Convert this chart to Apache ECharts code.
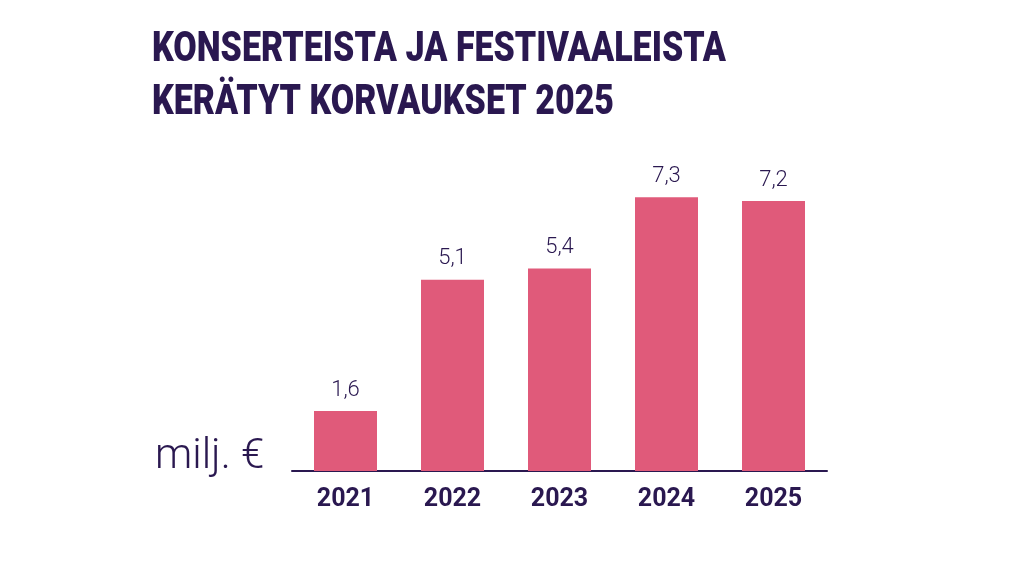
<!DOCTYPE html>
<html>
<head>
<meta charset="utf-8">
<style>
  html, body { margin: 0; padding: 0; background: #fff; }
  #chart { width: 1024px; height: 576px; }
</style>
<script src="https://cdn.jsdelivr.net/npm/echarts@6/dist/echarts.min.js"></script>
</head>
<body>
<div id="chart"></div>
<script>
const years = ['2021', '2022', '2023', '2024', '2025']
const amounts = [1.6, 5.1, 5.4, 7.3, 7.2]
const titleLines = ['KONSERTEISTA JA FESTIVAALEISTA', 'KERÄTYT KORVAUKSET 2025']
const unitLabel = 'milj. €'

const purple = '#2a1850'
const pink = '#e05a7a'

const chart = echarts.init(document.getElementById('chart'))

chart.setOption({
  animation: false,
  // heavy condensed heading: no condensed face installed, so squeeze Roboto Black
  graphic: [
    {
      type: 'text',
      x: 152,
      y: 24,
      scaleX: 0.81,
      style: {
        text: titleLines.join('\n'),
        fill: purple,
        fontFamily: 'Roboto',
        fontWeight: 900,
        fontSize: 42,
        lineHeight: 53,
        verticalAlign: 'top',
      },
    },
  ],
  title: {
    text: unitLabel,
    left: 150,
    top: 431,
    textStyle: {
      color: purple,
      fontFamily: 'Roboto',
      fontWeight: 300,
      fontSize: 42,
    },
  },
  grid: {
    left: 292,
    right: 197,
    top: 171,
    bottom: 105,
  },
  xAxis: {
    type: 'category',
    data: years,
    axisLine: {
      lineStyle: { color: purple, width: 2 },
    },
    axisTick: { show: false },
    axisLabel: {
      color: purple,
      fontFamily: 'Roboto',
      fontWeight: 'bold',
      fontSize: 25,
      margin: 16,
    },
  },
  yAxis: {
    type: 'value',
    min: 0,
    max: 8,
    show: false,
  },
  series: [
    {
      type: 'bar',
      data: amounts,
      barWidth: 63,
      itemStyle: { color: pink },
      label: {
        show: true,
        position: 'top',
        distance: 10,
        color: purple,
        fontFamily: 'Roboto',
        fontWeight: 300,
        fontSize: 22,
        formatter: (p) => String(p.value).replace('.', ','),
      },
    },
  ],
})
</script>
</body>
</html>
